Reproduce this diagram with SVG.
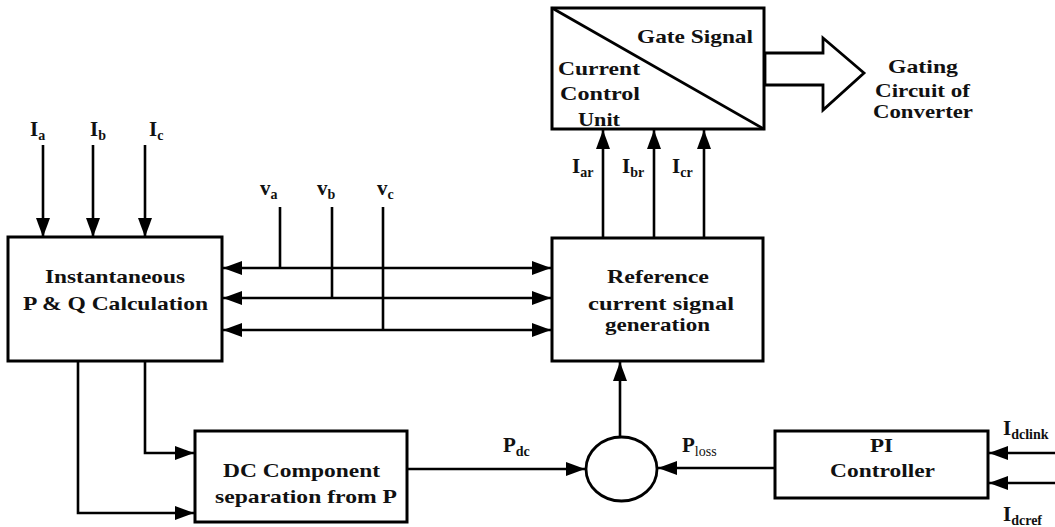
<svg xmlns="http://www.w3.org/2000/svg" width="1055" height="527" viewBox="0 0 1055 527">
<style>
.box{fill:#fff;stroke:#000;stroke-width:3}
.ln{fill:none;stroke:#000;stroke-width:2.6}
text{font-family:"Liberation Serif","Times New Roman",serif;font-weight:bold;font-size:19px;fill:#111}
.c{text-anchor:middle}
.l{font-size:21px}
.s{font-size:14px}
</style>
<defs>
<marker id="ah" markerUnits="userSpaceOnUse" markerWidth="20" markerHeight="16" refX="19" refY="7" orient="auto-start-reverse" viewBox="0 0 20 14">
<path d="M0,0 L19,7 L0,14 z" fill="#000"/>
</marker>
</defs>
<rect width="1055" height="527" fill="#fff"/>

<g id="connectors">
<line class="ln" x1="43" y1="145" x2="43" y2="237" marker-end="url(#ah)"/>
<line class="ln" x1="93" y1="145" x2="93" y2="237" marker-end="url(#ah)"/>
<line class="ln" x1="145" y1="145" x2="145" y2="237" marker-end="url(#ah)"/>
<line class="ln" x1="223" y1="268" x2="551" y2="268" marker-start="url(#ah)" marker-end="url(#ah)"/>
<line class="ln" x1="223" y1="298" x2="551" y2="298" marker-start="url(#ah)" marker-end="url(#ah)"/>
<line class="ln" x1="223" y1="330" x2="551" y2="330" marker-start="url(#ah)" marker-end="url(#ah)"/>
<line class="ln" x1="280" y1="207" x2="280" y2="268"/>
<line class="ln" x1="332" y1="207" x2="332" y2="298"/>
<line class="ln" x1="383" y1="207" x2="383" y2="330"/>
<line class="ln" x1="603" y1="238" x2="603" y2="130" marker-end="url(#ah)"/>
<line class="ln" x1="654" y1="238" x2="654" y2="130" marker-end="url(#ah)"/>
<line class="ln" x1="704" y1="238" x2="704" y2="130" marker-end="url(#ah)"/>
<polyline class="ln" points="145,362 145,453 194,453" marker-end="url(#ah)"/>
<polyline class="ln" points="78,362 78,513 194,513" marker-end="url(#ah)"/>
<line class="ln" x1="408" y1="469" x2="585" y2="469" marker-end="url(#ah)"/>
<line class="ln" x1="775" y1="468" x2="658" y2="468" marker-end="url(#ah)"/>
<line class="ln" x1="620" y1="437" x2="620" y2="362" marker-end="url(#ah)"/>
<line class="ln" x1="1055" y1="453" x2="989" y2="453" marker-end="url(#ah)"/>
<line class="ln" x1="1055" y1="483" x2="989" y2="483" marker-end="url(#ah)"/>
<polygon points="765,53 823,53 823,38 864,73 823,110 823,85 765,85" fill="#fff" stroke="#000" stroke-width="2.8" stroke-linejoin="miter"/>
</g>

<g id="ccu">
<rect class="box" x="552" y="8" width="212" height="121"/>
<line x1="552" y1="8" x2="764" y2="129" stroke="#000" stroke-width="2.8"/>
<text x="637" y="43" textLength="116" lengthAdjust="spacingAndGlyphs">Gate Signal</text>
<text x="558" y="75" textLength="82" lengthAdjust="spacingAndGlyphs">Current</text>
<text x="560" y="100" textLength="80" lengthAdjust="spacingAndGlyphs">Control</text>
<text x="578" y="126" textLength="42" lengthAdjust="spacingAndGlyphs">Unit</text>
</g>

<g id="gating">
<text x="888" y="73" textLength="70" lengthAdjust="spacingAndGlyphs">Gating</text>
<text x="875" y="97" textLength="95" lengthAdjust="spacingAndGlyphs">Circuit of</text>
<text x="873" y="118" textLength="100" lengthAdjust="spacingAndGlyphs">Converter</text>
</g>

<g id="inst">
<rect class="box" x="8" y="237" width="214" height="124"/>
<text x="45" y="283" textLength="140" lengthAdjust="spacingAndGlyphs">Instantaneous</text>
<text x="23" y="310" textLength="185" lengthAdjust="spacingAndGlyphs">P &amp; Q Calculation</text>
</g>

<g id="ref">
<rect class="box" x="552" y="238" width="211" height="123"/>
<text x="607" y="283" textLength="102" lengthAdjust="spacingAndGlyphs">Reference</text>
<text x="588" y="310" textLength="146" lengthAdjust="spacingAndGlyphs">current signal</text>
<text x="605" y="331" textLength="105" lengthAdjust="spacingAndGlyphs">generation</text>
</g>

<g id="dc">
<rect class="box" x="195" y="431" width="212" height="91"/>
<text x="223" y="477" textLength="157" lengthAdjust="spacingAndGlyphs">DC Component</text>
<text x="215" y="503" textLength="182" lengthAdjust="spacingAndGlyphs">separation from P</text>
</g>

<g id="sum">
<ellipse cx="621.5" cy="469" rx="35.5" ry="32" fill="#fff" stroke="#000" stroke-width="2.8"/>
</g>

<g id="pi">
<rect class="box" x="775" y="431" width="213" height="67"/>
<text x="870" y="452" textLength="23" lengthAdjust="spacingAndGlyphs">PI</text>
<text x="830" y="477" textLength="105" lengthAdjust="spacingAndGlyphs">Controller</text>
</g>

<g id="labels">
<text class="l" x="30" y="136">I<tspan class="s" dy="4">a</tspan></text>
<text class="l" x="90" y="136">I<tspan class="s" dy="4">b</tspan></text>
<text class="l" x="149" y="136">I<tspan class="s" dy="4">c</tspan></text>
<text class="l" x="260" y="195">v<tspan class="s" dy="4">a</tspan></text>
<text class="l" x="317" y="195">v<tspan class="s" dy="4">b</tspan></text>
<text class="l" x="377" y="195">v<tspan class="s" dy="4">c</tspan></text>
<text class="l" x="572" y="173">I<tspan class="s" dy="4">ar</tspan></text>
<text class="l" x="622" y="173">I<tspan class="s" dy="4">br</tspan></text>
<text class="l" x="672" y="173">I<tspan class="s" dy="4">cr</tspan></text>
<text class="l" x="503" y="452">P<tspan class="s" dy="4">dc</tspan></text>
<text class="l" x="682" y="452">P<tspan class="s" dy="4" font-weight="normal">loss</tspan></text>
<text class="l" x="1003" y="435">I<tspan class="s" dy="4">dclink</tspan></text>
<text class="l" x="1003" y="521">I<tspan class="s" dy="4">dcref</tspan></text>
</g>
</svg>
